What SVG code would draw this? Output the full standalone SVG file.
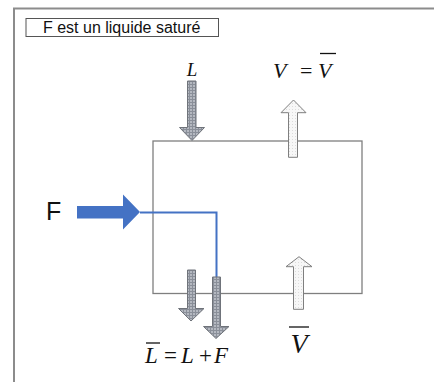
<svg xmlns="http://www.w3.org/2000/svg" width="434" height="382" viewBox="0 0 434 382">
<defs>
<pattern id="grid" width="3" height="3" patternUnits="userSpaceOnUse">
<rect width="3" height="3" fill="#b4b8c0"/>
<path d="M0,0.5H3M0.5,0V3" stroke="#8a8f99" stroke-width="1"/>
</pattern>
<pattern id="dots" width="3" height="3" patternUnits="userSpaceOnUse">
<rect width="3" height="3" fill="#f7f7f7"/>
<rect x="1" y="1" width="1" height="1" fill="#dcdcdc"/>
</pattern>
</defs>
<style>
.frame{fill:none;stroke:#8c8c8c;stroke-width:2}
.box{fill:none;stroke:#7f7f7f;stroke-width:1.3}
.dark{fill:url(#grid);stroke:#6f737a;stroke-width:1}
.light{fill:url(#dots);stroke:#7f7f7f;stroke-width:1}
.math{font-family:"Liberation Serif",serif;font-style:italic;fill:#111}
.op{font-family:"Liberation Serif",serif;fill:#111}
.sans{font-family:"Liberation Sans",Arial,sans-serif;fill:#111}
.bar{stroke:#111;stroke-width:1.3}
</style>
<rect width="434" height="382" fill="#fff"/>
<path class="frame" d="M14,382V8.5H434"/>
<g id="label">
<rect x="26" y="18.5" width="192.5" height="18" fill="#fff" stroke="#555" stroke-width="1"/>
<text class="sans" x="43" y="32.5" font-size="16">F est un liquide saturé</text>
</g>
<g id="column">
<rect class="box" x="153" y="141" width="209" height="152.5"/>
</g>
<g id="connectors">
<path d="M140,212.5H216.5V277" fill="none" stroke="#4472C4" stroke-width="2"/>
</g>
<g id="feed">
<polygon points="77,206 123,206 123,194.5 140,212 123,229.5 123,218.5 77,218.5" fill="#4472C4"/>
<text class="sans" x="46" y="220" font-size="25">F</text>
</g>
<g id="L-in">
<polygon class="dark" points="187.5,81 196,81 196,127.5 204.5,127.5 192,140.5 179.5,127.5 187.5,127.5"/>
<text class="math" x="192" y="76" font-size="19" text-anchor="middle">L</text>
</g>
<g id="V-out">
<polygon class="light" points="293.5,100 306,112.7 297.5,112.7 297.5,157.3 288.5,157.3 288.5,112.7 281,112.7"/>
<text class="math" x="273" y="78" font-size="22">V</text>
<text class="op" x="300" y="78" font-size="22">=</text>
<text class="math" x="318" y="78" font-size="22">V</text>
<line class="bar" x1="320" y1="53.5" x2="336" y2="53.5"/>
</g>
<g id="Vbar-in">
<polygon class="light" points="299,256.7 312,266.7 303.5,266.7 303.5,309.3 293.5,309.3 293.5,266.7 286,266.7"/>
<text class="math" x="299" y="352.5" font-size="28" text-anchor="middle">V</text>
<line class="bar" x1="289" y1="327" x2="309" y2="327" stroke-width="1.6"/>
</g>
<g id="Lbar-out">
<polygon class="dark" points="187.5,270 195.5,270 195.5,308.5 204,308.5 191,321 178.5,308.5 187.5,308.5"/>
<polygon class="dark" points="212.5,277 220.5,277 220.5,326.5 229,326.5 216,338.5 203.5,326.5 212.5,326.5"/>
<text class="math" x="145" y="362.5" font-size="23">L</text>
<line class="bar" x1="146" y1="343" x2="160" y2="343"/>
<text class="op" x="164" y="362.5" font-size="23">=</text>
<text class="math" x="181" y="362.5" font-size="23">L</text>
<text class="op" x="199" y="362.5" font-size="23">+</text>
<text class="math" x="214" y="362.5" font-size="23">F</text>
</g>
</svg>
